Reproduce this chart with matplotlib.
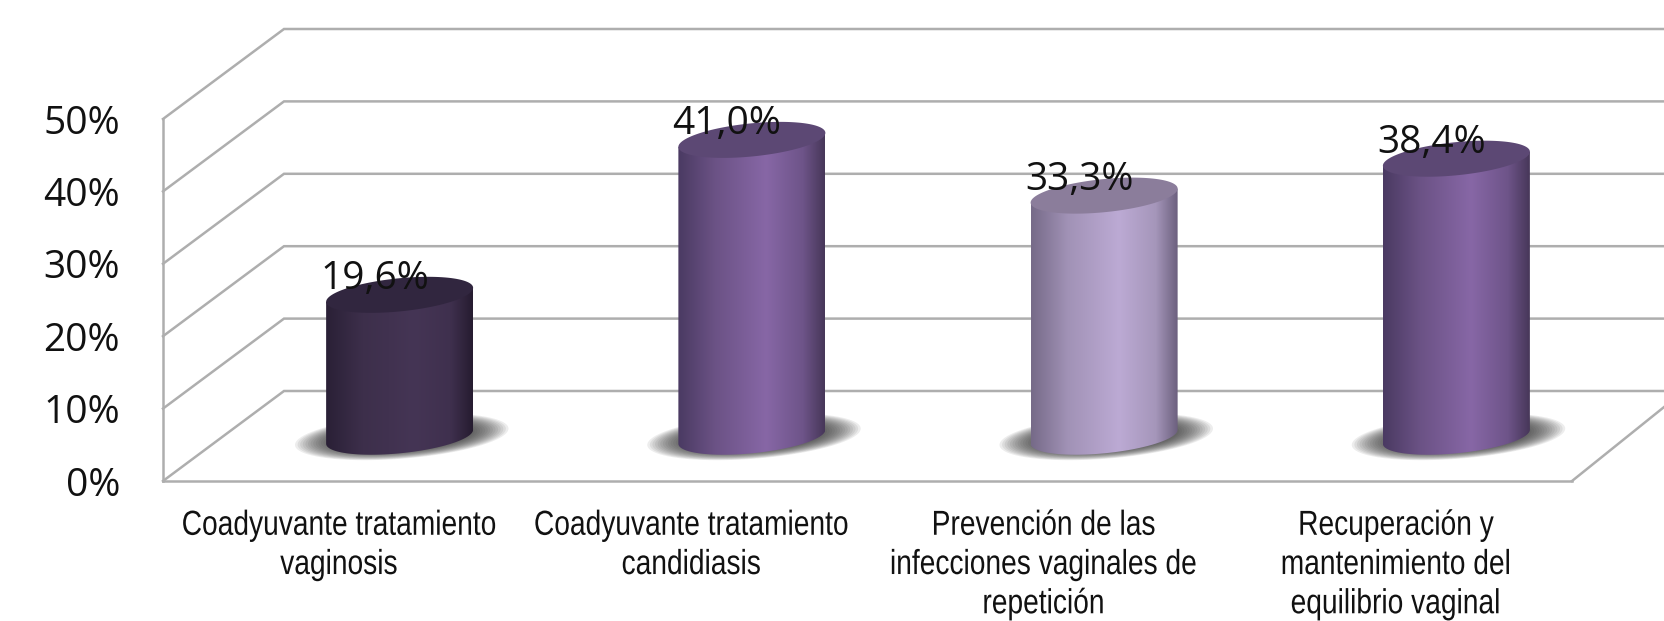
import numpy as np
import matplotlib
matplotlib.use("Agg")
import matplotlib.pyplot as plt
from matplotlib.colors import LinearSegmentedColormap
from matplotlib.patches import Polygon
from matplotlib.patheffects import AbstractPathEffect
from matplotlib.transforms import Affine2D, ScaledTranslation

categories = ["Coadyuvante tratamiento\nvaginosis",
              "Coadyuvante tratamiento\ncandidiasis",
              "Prevención de las\ninfecciones vaginales de\nrepetición",
              "Recuperación y\nmantenimiento del\nequilibrio vaginal"]
values = [19.6, 41.0, 33.3, 38.4]
value_labels = ["19,6%", "41,0%", "33,3%", "38,4%"]
y_ticks = [0, 10, 20, 30, 40, 50]
y_tick_labels = ["0%", "10%", "20%", "30%", "40%", "50%"]

W, H = 1665, 621
PX_X = 352.25          # pixels per category
PX_Y = 7.24            # pixels per percentage point
GRID = "#aeaeae"
bar_stops = [
    ["#2a2036", "#3d2f4b", "#453555", "#3f304e", "#261c30"],
    ["#4a3a62", "#6b5285", "#8767a6", "#6e5489", "#473759"],
    ["#766a88", "#a192b6", "#bcaad4", "#a596ba", "#6c607e"],
    ["#4a3a62", "#6b5285", "#8767a6", "#6e5489", "#473759"],
]
stop_pos = [0.0, 0.25, 0.6, 0.85, 1.0]
top_colors = ["#31263f", "#5c4874", "#8b7d9b", "#5c4874"]


class Squeeze(AbstractPathEffect):
    """Condense a text line horizontally about its own centre."""

    def __init__(self, sx):
        super().__init__()
        self.sx = sx

    def draw_path(self, renderer, gc, tpath, affine, rgbFace=None):
        bb = tpath.get_extents(affine)
        c = bb.x0 + bb.width / 2
        squeezed = affine + Affine2D().translate(-c, 0).scale(self.sx, 1).translate(c, 0)
        renderer.draw_path(gc, tpath, squeezed, rgbFace)


plt.rcParams["font.family"] = ["Open Sans", "DejaVu Sans"]
fig = plt.figure(figsize=(W / 100, H / 100), dpi=100, facecolor="white")
ax = fig.add_axes([163 / W, (H - 481) / H, 1409 / W, 362 / H])
ax.set_facecolor("none")

depth_x, depth_y = 121 / PX_X, 90 / PX_Y
right_depth_x = 112 / PX_X
mid_x, mid_y = depth_x / 2, depth_y / 2 - 0.1
a = 73.5 / PX_X
shear = 7 / PX_Y
b = 16.6 / PX_Y
xmin, xmax = -0.5, 3.5

# back wall, side wall and floor
for t in y_ticks:
    ax.plot([xmin, xmin + depth_x, xmax + 1], [t, t + depth_y, t + depth_y],
            color=GRID, lw=1.8, clip_on=False, zorder=1, solid_joinstyle="miter")
ax.plot([xmax, xmax + right_depth_x], [0, depth_y], color=GRID, lw=1.8, clip_on=False, zorder=1)


def ellipse(cx, cy, ea, es, eb, t0=0.0, t1=2 * np.pi, n=120):
    t = np.linspace(t0, t1, n)
    return np.column_stack([cx + ea * np.cos(t), cy + es * np.cos(t) + eb * np.sin(t)])


for i, v in enumerate(values):
    cx = i + mid_x
    # soft floor shadow
    layers = 14
    for k in range(layers):
        f = 1.06 - k / layers * 0.36
        ax.add_patch(Polygon(ellipse(cx + 0.006, mid_y, a * 1.37 * f, shear * 1.1 * f, b * 1.25 * f),
                             closed=True, fc="#303030", ec="none", alpha=0.085,
                             clip_on=False, zorder=2))
    # cylinder body with horizontal shading
    lower = ellipse(cx, mid_y, a, shear, b, np.pi, 2 * np.pi)
    outline = np.vstack([[cx - a, mid_y + v - shear], lower, [cx + a, mid_y + v + shear]])
    body = Polygon(outline, closed=True, fc="none", ec="none", clip_on=False, zorder=3)
    ax.add_patch(body)
    cmap = LinearSegmentedColormap.from_list(f"bar{i}", list(zip(stop_pos, bar_stops[i])))
    im = ax.imshow(np.linspace(0, 1, 256)[None, :], cmap=cmap, aspect="auto",
                   extent=[cx - a, cx + a, mid_y - 5, mid_y + v + 5], zorder=3)
    im.set_clip_on(True)
    im.set_clip_path(body)
    # cylinder top
    ax.add_patch(Polygon(ellipse(cx, mid_y + v, a, shear, b), closed=True,
                         fc=top_colors[i], ec="none", clip_on=False, zorder=4))
    ax.annotate(value_labels[i], xy=(cx, mid_y + v), xytext=(-18, 11.5),
                textcoords="offset points", ha="center", va="center",
                fontsize=28, color="#111111", zorder=6, annotation_clip=False)

ax.set_xlim(xmin, xmax)
ax.set_ylim(0, 50)
ax.set_xticks(range(len(categories)))
ax.set_xticklabels(categories, family=["Liberation Sans"],
                   fontsize=25, color="#111111", linespacing=1.24)
for lab in ax.get_xticklabels():
    lab.set_path_effects([Squeeze(0.811)])
ax.set_yticks(y_ticks)
ax.set_yticklabels(y_tick_labels, fontsize=28, color="#111111")
shift = ScaledTranslation(0, -3 / 100, fig.dpi_scale_trans)
for lab in ax.get_yticklabels():
    lab.set_transform(lab.get_transform() + shift)
ax.tick_params(axis="x", length=0, pad=20)
ax.tick_params(axis="y", length=0, pad=31)
for s in ("top", "right"):
    ax.spines[s].set_visible(False)
for s in ("left", "bottom"):
    ax.spines[s].set_color(GRID)
    ax.spines[s].set_linewidth(1.8)
    ax.spines[s].set_zorder(1)

fig.savefig("out.png", dpi=100, facecolor="white")
